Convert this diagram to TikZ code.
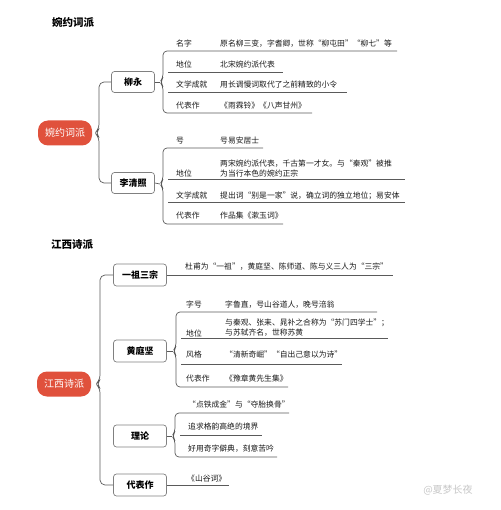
\documentclass[tikz,border=0pt]{standalone}
\usepackage{fontspec}
\setmainfont{Noto Sans CJK SC}
\definecolor{rootred}{HTML}{E0513C}
\definecolor{lncol}{HTML}{5A5A5A}
\tikzset{
  ln/.style={draw=lncol, line width=0.7pt},
  rootbox/.style={fill=rootred, text=white, rounded corners=10pt, minimum width=54pt, minimum height=25pt, inner sep=0pt, font=\fontsize{10}{12}\selectfont},
  subbox/.style={draw=black!50, line width=0.7pt, fill=white, rounded corners=3pt, minimum width=43pt, minimum height=21pt, inner sep=0pt, font=\fontsize{9}{11}\selectfont\bfseries},
  subbox2/.style={subbox, minimum width=53pt, minimum height=22pt},
  lab/.style={anchor=west, inner sep=0pt, font=\fontsize{7.8}{10}\selectfont, text=black!90},
  val/.style={anchor=west, inner sep=0pt, font=\fontsize{7.8}{10}\selectfont, align=left, text=black!90},
  ttl/.style={inner sep=0pt, font=\fontsize{10.5}{12}\selectfont\bfseries}
}
% brace: x, ytop, ybot, ymid, xend top, xend bottom
\newcommand\mybrc[6]{%
  \draw[ln, rounded corners=4pt] (#5,#2) -- (#1,#2) -- (#1,#4-4) -- (#1-3,#4) -- (#1,#4+4) -- (#1,#3) -- (#6,#3);}
\begin{document}
\begin{tikzpicture}[x=1pt, y=-1pt]
\useasboundingbox (0,0) rectangle (500,510);

% ---------- 婉约词派 ----------
\node[ttl] (t1) at (73,22) {婉约词派};
\node[rootbox] (r1) at (65,133) {婉约词派};
\node[subbox] (ly) at (133,82) {柳永};
\node[subbox] (lqz) at (133,183) {李清照};
\draw[ln, rounded corners=5pt] (ly.west) -- (99,82) -- (99,129) -- (95,133) -- (99,137) -- (99,183) -- (lqz.west);

% 柳永
\coordinate (b1) at (160,82);
\draw[ln] (ly.east) -- (b1);
\mybrc{163}{51}{113}{82}{397}{312}
\draw[ln] (168,72) -- (283,72);
\draw[ln] (168,92) -- (347,92);
\node[lab] (l11) at (176,44) {名字};
\node[val] (v11) at (220,44) {原名柳三变，字耆卿，世称“柳屯田”“柳七”等};
\node[lab] (l12) at (176,65) {地位};
\node[val] (v12) at (220,65) {北宋婉约派代表};
\node[lab] (l13) at (176,85) {文学成就};
\node[val] (v13) at (220,85) {用长调慢词取代了之前精致的小令};
\node[lab] (l14) at (176,106) {代表作};
\node[val] (v14) at (220,106) {《雨霖铃》《八声甘州》};

% 李清照
\coordinate (b2) at (160,184);
\draw[ln] (lqz.east) -- (b2);
\mybrc{163}{148}{224}{184}{263}{283}
\draw[ln] (168,179) -- (405,179);
\draw[ln] (168,202) -- (405,202);
\node[lab] (l21) at (176,141) {号};
\node[val] (v21) at (220,141) {号易安居士};
\node[lab] (l22) at (176,174) {地位};
\node[val] (v22) at (220,169) {两宋婉约派代表，千古第一才女。与“秦观”被推\\为当行本色的婉约正宗};
\node[lab] (l23) at (176,196) {文学成就};
\node[val] (v23) at (220,196) {提出词“别是一家”说，确立词的独立地位；易安体};
\node[lab] (l24) at (176,216) {代表作};
\node[val] (v24) at (220,216) {作品集《漱玉词》};

% ---------- 江西诗派 ----------
\node[ttl] (t2) at (72,245) {江西诗派};
\node[rootbox] (r2) at (64,384) {江西诗派};
\node[subbox2] (yz) at (140,275) {一祖三宗};
\node[subbox2] (htj) at (140,351) {黄庭坚};
\node[subbox2] (ll) at (140,436) {理论};
\node[subbox2] (dbz) at (140,485) {代表作};
\draw[ln, rounded corners=5pt] (yz.west) -- (100,275) -- (100,380) -- (96,384) -- (100,388) -- (100,485) -- (dbz.west);

% 一祖三宗
\coordinate (e1) at (393,275);
\draw[ln] (yz.east) -- (e1);
\node[val] (v31) at (185,267) {杜甫为“一祖”，黄庭坚、陈师道、陈与义三人为“三宗”};

% 黄庭坚
\coordinate (b3) at (173,351);
\draw[ln] (htj.east) -- (b3);
\mybrc{176}{312}{387}{351}{377}{288}
\draw[ln] (181,338) -- (388,338);
\draw[ln] (181,364) -- (342,364);
\node[lab] (l41) at (186,305) {字号};
\node[val] (v41) at (225,305) {字鲁直，号山谷道人，晚号涪翁};
\node[lab] (l42) at (186,333) {地位};
\node[val] (v42) at (225,328) {与秦观、张耒、晁补之合称为“苏门四学士”；\\与苏轼齐名，世称苏黄};
\node[lab] (l43) at (186,355) {风格};
\node[val] (v43) at (225,355) {“清新奇崛”“自出己意以为诗”};
\node[lab] (l44) at (186,379) {代表作};
\node[val] (v44) at (225,379) {《豫章黄先生集》};

% 理论
\coordinate (b4) at (172,436);
\draw[ln] (ll.east) -- (b4);
\mybrc{175}{413}{457}{436}{289}{277}
\draw[ln] (180,435) -- (262,435);
\node[val] (v51) at (188,405) {“点铁成金”与“夺胎换骨”};
\node[val] (v52) at (188,427) {追求格韵高绝的境界};
\node[val] (v53) at (188,449) {好用奇字僻典，刻意苦吟};

% 代表作
\coordinate (e2) at (229,485);
\draw[ln] (dbz.east) -- (e2);
\node[val] (v61) at (187,479) {《山谷词》};

% watermark
\node[inner sep=0pt, text=black!22, font=\fontsize{10}{12}\selectfont] (wm) at (448,490) {@夏梦长夜};
\end{tikzpicture}
\end{document}
